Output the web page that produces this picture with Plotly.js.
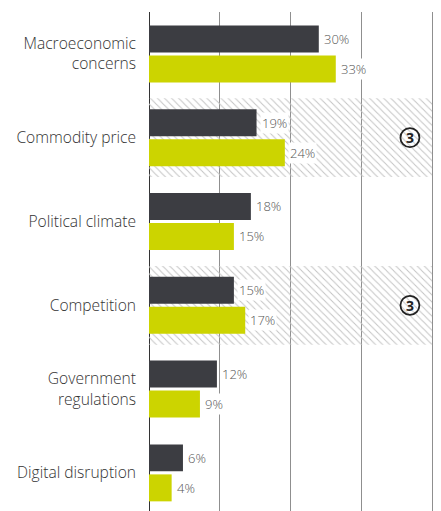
<!DOCTYPE html>
<html>
<head>
<meta charset="utf-8">
<script src="https://cdn.plot.ly/plotly-3.0.1.min.js"></script>
<style>html,body{margin:0;padding:0;background:#fff;}#chart{width:441px;height:511px;}</style>
</head>
<body>
<div id="chart"></div>
<script>
// ---- data ----
const categories = ['Macroeconomic<br>concerns', 'Commodity price', 'Political climate', 'Competition', 'Government<br>regulations', 'Digital disruption'];
const seriesDark = [30, 19, 18, 15, 12, 6];
const seriesLime = [33, 24, 15, 17, 9, 4];
const highlightedCategories = ['Commodity price', 'Competition'];
const highlightExtent = [50, 50];
const highlightMarkX = [46.1, 46.1];
const highlightMarkText = ['3', '3'];
const xTicks = [0, 12.5, 25, 37.5, 50];

// ---- styles ----
const DARK = '#3c3d42';
const LIME = '#ccd400';
const LABEL = '#555555';

const hatch = {
  type: 'bar', orientation: 'h',
  y: highlightedCategories, x: highlightExtent, base: 0,
  width: 0.94, offset: -0.47,
  marker: {color: 'rgba(0,0,0,0)', line: {width: 0},
    pattern: {shape: '\\', fgcolor: '#c4c4c4', bgcolor: 'rgba(0,0,0,0)', size: 5, solidity: 0.2, fillmode: 'replace'}},
  hoverinfo: 'skip', showlegend: false
};
const darkTrace = {
  type: 'bar', orientation: 'h', y: categories, x: seriesDark,
  width: 0.322, offset: -0.34,
  marker: {color: DARK, line: {width: 0}}, showlegend: false
};
const limeTrace = {
  type: 'bar', orientation: 'h', y: categories, x: seriesLime,
  width: 0.322, offset: 0.018,
  marker: {color: LIME, line: {width: 0}}, showlegend: false
};

const labelFont = {family: 'Open Sans', size: 13, color: LABEL, weight: 300};
const annotations = [];
categories.forEach((c, i) => {
  annotations.push({x: seriesDark[i], y: c, xref: 'x', yref: 'y', text: seriesDark[i] + '%',
    showarrow: false, xanchor: 'left', yanchor: 'middle', xshift: 3, yshift: 15,
    bgcolor: '#ffffff', borderpad: 1, font: labelFont});
  annotations.push({x: seriesLime[i], y: c, xref: 'x', yref: 'y', text: seriesLime[i] + '%',
    showarrow: false, xanchor: 'left', yanchor: 'middle', xshift: 3, yshift: -15,
    bgcolor: '#ffffff', borderpad: 1, font: labelFont});
});
const shapes = [];
highlightedCategories.forEach((c, i) => {
  annotations.push({x: highlightMarkX[i], y: c, xref: 'x', yref: 'y', text: '<b>' + highlightMarkText[i] + '</b>',
    showarrow: false, xanchor: 'center', yanchor: 'middle',
    font: {family: 'Open Sans', size: 14, color: '#222'}});
  shapes.push({type: 'circle', xref: 'x', yref: 'y', xsizemode: 'pixel', ysizemode: 'pixel',
    xanchor: highlightMarkX[i], yanchor: categories.indexOf(c),
    x0: -9.5, x1: 9.5, y0: -9.5, y1: 9.5, line: {color: '#222', width: 1.8}, fillcolor: 'rgba(0,0,0,0)'});
});

const layout = {
  width: 441, height: 511,
  margin: {l: 149, r: 6, t: 12, b: 0, pad: 0},
  paper_bgcolor: '#ffffff', plot_bgcolor: '#ffffff',
  barmode: 'overlay',
  showlegend: false,
  xaxis: {range: [0, 50.53], tickvals: xTicks, showticklabels: false, showgrid: true,
    gridcolor: '#8f8f8f', gridwidth: 1, zeroline: true, zerolinecolor: '#333', zerolinewidth: 1,
    showline: false, fixedrange: true},
  yaxis: {type: 'category', categoryarray: categories, categoryorder: 'array',
    range: [5.455, -0.5], showgrid: false, zeroline: false, showline: false, ticks: '',
    ticklabelstandoff: 12,
    tickfont: {family: 'Open Sans', size: 15.6, color: '#333333', weight: 300}, fixedrange: true},
  annotations: annotations,
  shapes: shapes
};

Plotly.newPlot('chart', [hatch, darkTrace, limeTrace], layout, {displayModeBar: false, staticPlot: true});
</script>
</body>
</html>
